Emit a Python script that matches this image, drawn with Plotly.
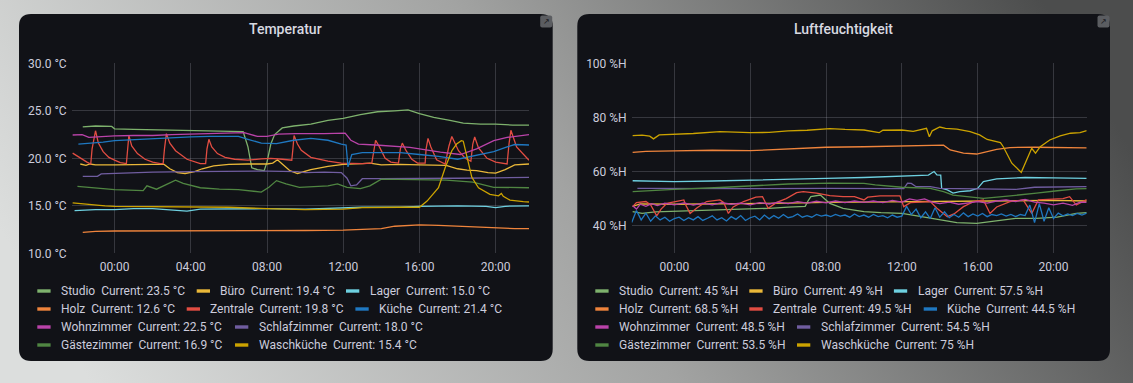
import base64
from datetime import datetime, timedelta
import plotly.graph_objects as go

W, H = 1133, 383
BASE = datetime(2023, 3, 2)

# ---------------- data ----------------
names = ["Studio", "Büro", "Lager", "Holz", "Zentrale", "Küche",
         "Wohnzimmer", "Schlafzimmer", "Gästezimmer", "Waschküche"]
colors = ["#7EB26D", "#EAB839", "#6ED0E0", "#EF843C", "#E24D42", "#1F78C1",
          "#BA43A9", "#705DA0", "#508642", "#CCA300"]
temp_current = [23.5, 19.4, 15.0, 12.6, 19.8, 21.4, 22.5, 18.0, 16.9, 15.4]
hum_current = [45, 49, 57.5, 68.5, 49.5, 44.5, 48.5, 54.5, 53.5, 75]
temp_ticks = [10, 15, 20, 25, 30]
hum_ticks = [40, 60, 80, 100]

# temperature series: (hour relative to 00:00, value °C)
temp_studio = [(-1.67, 23.3), (-1.0, 23.4), (-0.15, 23.35), (0.0, 23.1), (1, 23.05), (2, 23.0), (3, 22.95),
               (4, 22.9), (5, 22.9), (6, 22.85), (6.75, 22.8), (7.0, 21.2), (7.2, 19.0), (7.5, 18.8),
               (7.85, 18.7), (8.0, 19.6), (8.2, 21.5), (8.4, 22.5), (8.8, 23.2), (9.4, 23.4), (10.3, 23.6),
               (11.2, 24.0), (12, 24.2), (12.9, 24.6), (13.8, 24.9), (14.7, 25.0), (15.4, 25.1), (16, 24.7),
               (16.75, 24.3), (17.6, 24.0), (18.3, 23.7), (19.2, 23.6), (20, 23.6), (20.9, 23.5), (21.75, 23.5)]
temp_buero = [(-1.8, 19.4), (-1.5, 19.25), (-1.3, 19.4), (-1, 19.3), (0, 19.3), (1, 19.35), (2, 19.35),
              (2.6, 19.35), (2.9, 18.9), (3.3, 18.5), (3.7, 18.4), (4.2, 18.6), (4.6, 18.9), (5.2, 19.2),
              (6, 19.35), (7, 19.4), (8, 19.4), (8.3, 19.5), (8.55, 19.85), (8.8, 19.4), (9.2, 18.7),
              (9.6, 18.4), (10.3, 18.8), (11.2, 19.15), (12, 19.35), (13, 19.45), (13.4, 19.5), (14, 19.3),
              (15, 19.35), (16, 19.3), (17, 19.3), (17.4, 19.25), (18, 18.9), (18.5, 18.75), (19, 18.7),
              (19.6, 18.5), (20, 18.45), (20.5, 18.8), (21, 19.3), (21.75, 19.4)]
temp_lager = [(-2.1, 14.5), (-1, 14.6), (0, 14.6), (1, 14.7), (2, 14.7), (3, 14.6), (3.8, 14.45), (4.5, 14.65),
              (6, 14.7), (8, 14.7), (10, 14.65), (12, 14.75), (13, 14.85), (15, 14.85), (16, 14.95),
              (18, 15.0), (19.5, 14.95), (20, 14.8), (20.5, 14.95), (21.75, 15.0)]
temp_holz = [(-1.67, 12.2), (-1, 12.3), (0, 12.35), (2, 12.35), (4, 12.35), (6, 12.4), (8, 12.35), (10, 12.4),
             (12, 12.45), (13, 12.5), (14, 12.6), (14.7, 12.85), (16, 13.0), (17, 12.95), (18, 12.85),
             (19, 12.8), (20, 12.65), (21, 12.6), (21.75, 12.6)]
temp_zentrale = [(-2.2, 20.55), (-1.8, 20.0), (-1.45, 19.6), (-1.25, 19.4), (-1.18, 21.0), (-1.0, 22.9),
                 (-0.85, 21.6), (-0.6, 20.7), (-0.3, 20.1), (0, 19.8), (0.3, 19.55), (0.62, 19.45), (0.7, 21.5),
                 (0.75, 22.4), (0.9, 21.3), (1.2, 20.5), (1.6, 19.9), (2.0, 19.6), (2.4, 19.45), (2.55, 19.45),
                 (2.62, 21.0), (2.72, 22.6), (2.9, 21.6), (3.2, 20.8), (3.8, 19.9), (4.2, 19.6), (4.5, 19.45),
                 (4.78, 19.45), (4.85, 21.0), (4.95, 22.0), (5.1, 21.2), (5.4, 20.5), (5.8, 20.1), (6.3, 19.9),
                 (7.0, 19.8), (7.7, 19.95), (8.2, 20.0), (8.8, 19.9), (9.3, 19.8), (9.36, 21.0), (9.42, 22.4),
                 (9.6, 21.5), (9.8, 20.85), (10.3, 20.1), (11.2, 19.7), (11.9, 19.5), (12.5, 19.45),
                 (13.0, 19.45), (13.5, 19.5), (13.6, 21.0), (13.7, 21.9), (13.9, 21.2), (14.2, 20.0),
                 (14.5, 19.6), (14.9, 19.5), (15.0, 21.0), (15.1, 21.6), (15.3, 20.8), (15.6, 19.9),
                 (15.9, 19.5), (16.3, 19.5), (16.35, 21.0), (16.45, 22.1), (16.6, 21.2), (16.9, 19.85),
                 (17.35, 19.4), (17.55, 21.3), (17.7, 22.3), (17.85, 21.6), (18.05, 20.8), (18.4, 20.0),
                 (18.7, 19.7), (18.8, 21.5), (18.9, 22.25), (19.1, 21.1), (19.55, 20.0), (20.0, 19.6),
                 (20.6, 19.4), (20.7, 21.5), (20.8, 22.95), (21.1, 21.2), (21.5, 20.35), (21.75, 19.8)]
temp_kueche = [(-1.9, 21.5), (-1.2, 21.6), (-0.6, 21.7), (0, 21.85), (1, 21.95), (2, 22.1), (3, 22.15),
               (4, 22.25), (5, 22.3), (6, 22.3), (6.5, 22.3), (7, 22.0), (7.7, 21.6), (8.5, 21.55),
               (9.4, 21.9), (10.3, 22.1), (11.2, 21.9), (11.9, 21.5), (12.15, 21.4), (12.25, 19.1),
               (12.45, 20.4), (13, 20.6), (14, 20.6), (15, 20.6), (16, 20.4), (17, 20.2), (18, 19.9),
               (19, 20.3), (19.9, 20.7), (20.6, 21.2), (21, 21.45), (21.75, 21.4)]
temp_wohnzimmer = [(-2.2, 22.45), (-1.7, 22.5), (-1.35, 22.2), (-1, 22.25), (0, 22.35), (1, 22.4), (2, 22.4),
                   (3, 22.5), (4, 22.55), (5, 22.6), (6, 22.65), (6.8, 22.7), (7.5, 22.3), (8, 22.3),
                   (8.6, 22.55), (9.5, 22.6), (11, 22.6), (12.1, 22.65), (12.4, 21.9), (12.8, 21.5),
                   (13.7, 21.4), (15.5, 21.15), (17.1, 20.65), (18.15, 20.4), (19, 21.0), (19.9, 21.85),
                   (20.6, 22.2), (21.75, 22.5)]
temp_schlafzimmer = [(-1.67, 18.1), (-0.9, 18.1), (-0.7, 18.35), (0, 18.4), (1, 18.5), (2, 18.55), (4, 18.6),
                     (6, 18.65), (8, 18.65), (9.6, 18.6), (10, 18.5), (11, 18.55), (11.9, 18.5), (12.2, 17.9),
                     (12.4, 17.1), (12.7, 17.2), (13, 17.85), (14, 17.85), (16, 17.85), (17, 17.85),
                     (18, 17.9), (20, 17.95), (21.75, 18.0)]
temp_gaestezimmer = [(-1.95, 17.05), (-1.2, 16.9), (0, 16.7), (1.5, 16.6), (1.7, 17.1), (2.2, 16.75),
                     (2.7, 17.2), (3.2, 17.7), (3.6, 17.35), (4.5, 16.9), (5.5, 16.75), (6.5, 16.7),
                     (7.7, 16.45), (8.1, 16.95), (8.5, 17.65), (9.0, 17.3), (9.7, 16.95), (11.2, 17.1),
                     (11.7, 17.3), (12.2, 16.95), (12.9, 16.8), (13.4, 17.1), (14.0, 17.8), (16, 17.75),
                     (17.4, 17.7), (18.8, 17.5), (19.9, 16.95), (21.75, 16.9)]
temp_waschkueche = [(-2.2, 15.3), (-1.5, 15.15), (-0.5, 15.0), (0, 14.95), (2, 14.9), (4, 14.9), (6, 14.85),
                    (8, 14.7), (10, 14.6), (12, 14.65), (13, 14.8), (15, 14.85), (16, 14.85), (16.4, 15.5),
                    (16.7, 16.2), (17.0, 16.9), (17.35, 19.0), (17.7, 20.8), (17.95, 21.5), (18.2, 21.85),
                    (18.3, 21.8), (18.5, 20.0), (18.75, 18.0), (19.1, 16.9), (19.7, 16.2), (20.15, 16.05),
                    (20.3, 16.3), (20.4, 16.0), (20.75, 15.6), (21.45, 15.45), (21.75, 15.4)]

# humidity series: (hour relative to 00:00, value %H)
hum_studio = [(-2.2, 45.1), (-1.7, 44.4), (-1.0, 45.0), (0, 45.2), (1, 45.4), (2.4, 45.7), (4, 46.0),
              (5, 46.3), (6, 46.7), (6.9, 47.0), (7.05, 49.0), (7.2, 50.6), (7.7, 51.2), (8.0, 49.5),
              (8.2, 48.1), (8.9, 46.3), (10, 45.1), (10.9, 44.7), (12, 44.4), (12.8, 43.5), (13.5, 42.6),
              (14.0, 42.0), (14.9, 41.0), (15.95, 40.7), (16.65, 41.4), (17.35, 42.2), (18.0, 42.6),
              (19.1, 42.6), (20.2, 43.0), (21.2, 44.4), (21.75, 44.7)]
hum_buero = [(-2.2, 47.0), (-1.8, 47.9), (0, 47.8), (2, 47.9), (4, 48.0), (6, 48.2), (8, 48.5), (10, 48.6),
             (12, 48.9), (14, 49.0), (16, 49.1), (18, 49.2), (20, 49.2), (21.75, 49.0)]
hum_lager = [(-2.2, 56.5), (-1, 56.3), (0, 56.2), (2, 56.4), (4, 56.8), (6, 57.2), (8, 57.4), (10, 57.7),
             (12, 58.3), (13.4, 58.6), (13.7, 59.9), (13.85, 58.7), (14.05, 58.6), (14.1, 53.7),
             (14.4, 53.1), (14.7, 51.9), (15.05, 52.5), (15.6, 52.8), (16.0, 53.7), (16.3, 56.2),
             (17.0, 57.2), (18.5, 57.7), (20, 57.6), (21.75, 57.4)]
hum_holz = [(-2.2, 67.0), (-1.5, 67.4), (0, 67.6), (2, 67.8), (4, 67.65), (6, 68.2), (8, 68.9), (10, 69.1),
            (12, 69.3), (13, 69.6), (14.2, 69.7), (14.55, 67.9), (15.25, 66.7), (15.95, 66.4), (16.5, 67.2),
            (17.0, 68.1), (17.7, 68.8), (19, 68.9), (21.75, 68.7)]
hum_zentrale = [(-2.2, 46.9), (-2.0, 48.4), (-1.5, 48.8), (-1.25, 47.5), (-0.93, 43.5), (-0.7, 46.0),
                (-0.4, 48.1), (0.3, 49.0), (0.5, 49.4), (0.6, 47.5), (0.83, 44.4), (1.2, 46.5), (1.7, 48.8),
                (2.4, 49.4), (2.6, 48.5), (2.85, 44.4), (3.1, 46.8), (3.65, 48.8), (4.3, 50.4), (4.65, 50.6),
                (4.95, 46.3), (5.4, 48.5), (5.9, 49.9), (6.45, 52.1), (6.8, 52.5), (7.5, 51.9), (8.2, 51.0),
                (8.9, 50.6), (9.5, 50.6), (10.0, 49.4), (10.2, 50.4), (10.85, 50.9), (11.9, 50.9),
                (12.1, 46.9), (12.45, 48.4), (13.5, 48.8), (13.85, 46.3), (14.4, 43.2), (14.75, 44.2),
                (15.25, 46.9), (15.8, 48.8), (16.3, 49.4), (16.65, 44.4), (17.0, 46.8), (17.7, 48.8),
                (18.4, 49.4), (18.85, 44.4), (19.2, 49.4), (20.5, 49.9), (20.85, 50.6), (21.2, 47.5),
                (21.75, 49.5)]
hum_kueche_start = -2.25
hum_kueche_step = 0.25
hum_kueche = [41.0, 45.5, 42.0, 44.5, 41.5, 43.5, 42.0, 43.0, 41.5, 42.5, 43.0, 41.8, 42.8, 42.0, 43.2, 41.8,
              42.6, 43.5, 42.0, 42.8, 41.6, 43.2, 42.2, 43.6, 41.8, 42.8, 43.4, 42.0, 43.8, 42.4, 43.6, 42.6,
              44.0, 42.8, 43.2, 44.2, 43.0, 43.6, 43.0, 44.0, 43.4, 43.8, 43.2, 44.0, 43.4, 43.8, 43.0, 44.2,
              43.2, 43.8, 43.0, 44.0, 43.2, 43.6, 42.8, 43.8, 43.0, 43.4, 47.0, 44.0, 46.0, 42.8, 45.0, 42.5,
              46.5, 43.0, 45.0, 42.8, 44.0, 43.0, 44.6, 43.2, 44.2, 43.4, 44.4, 43.2, 44.0, 43.6, 44.2, 43.4,
              44.0, 43.2, 44.0, 43.6, 47.5, 41.0, 48.0, 41.5, 46.5, 42.5, 44.5, 43.5, 44.2, 43.6, 44.4, 43.8,
              44.5]
hum_wohnzimmer = [(-2.2, 47.2), (-2.0, 46.0), (-1.8, 47.8), (-1.5, 47.0), (-1.2, 48.0), (-0.9, 47.3),
                  (-0.5, 48.2), (0, 47.6), (0.5, 48.3), (1, 47.5), (1.5, 48.2), (2, 47.6), (2.5, 48.4),
                  (3, 47.8), (3.5, 48.2), (4, 47.6), (4.5, 48.4), (5, 47.9), (5.5, 48.6), (6, 48.0),
                  (6.5, 48.8), (7, 48.2), (7.5, 48.9), (8, 48.3), (8.5, 49.0), (9, 48.4), (9.5, 49.0),
                  (10, 48.5), (10.5, 49.0), (11, 48.4), (11.5, 49.2), (12, 48.6), (12.4, 49.8), (12.8, 49.2),
                  (13.2, 49.8), (13.6, 48.6), (14, 48.0), (14.5, 48.6), (15, 47.8), (15.5, 48.4), (16, 48.8),
                  (16.5, 48.2), (17, 49.0), (17.5, 49.4), (18, 48.8), (18.5, 49.6), (19, 48.6), (19.5, 48.2),
                  (20, 47.6), (20.5, 48.2), (21, 47.4), (21.4, 48.6), (21.75, 48.5)]
hum_schlafzimmer = [(-1.95, 53.7), (0, 53.6), (4, 53.6), (8, 53.7), (11, 53.5), (12.1, 53.6), (12.3, 55.6),
                    (12.5, 55.5), (12.75, 54.3), (13.5, 54.3), (14.0, 53.7), (16, 53.5), (18, 53.3),
                    (19.0, 54.1), (21.75, 54.3)]
hum_gaestezimmer = [(-2.2, 52.5), (-1, 52.8), (0, 53.3), (2.4, 54.0), (4, 54.6), (6, 55.3), (8.2, 55.6),
                    (10, 55.5), (10.6, 55.0), (12, 54.1), (13.5, 53.7), (14.2, 52.5), (14.7, 51.2), (15.6, 50.4),
                    (16.3, 50.0), (17.3, 50.6), (18.0, 51.2), (19.1, 51.9), (20.2, 52.8), (21.2, 53.5),
                    (21.75, 53.6)]
hum_waschkueche = [(-2.2, 73.2), (-1.7, 73.4), (-1.3, 73.0), (-1.1, 72.0), (-0.8, 73.5), (0, 73.7), (1, 74.0),
                   (2.4, 74.7), (3, 74.5), (4, 74.3), (5, 74.4), (6, 75.0), (7, 75.2), (8.2, 75.8), (9, 75.5),
                   (10, 75.3), (10.8, 74.3), (11, 75.2), (12, 75.3), (12.6, 74.8), (13.3, 75.9), (13.45, 72.8),
                   (13.6, 75.0), (13.85, 75.9), (14.0, 76.4), (14.3, 75.9), (14.9, 75.6), (15.6, 74.7),
                   (16.1, 73.5), (16.5, 71.8), (17.2, 70.6), (17.35, 69.1), (17.8, 63.0), (18.3, 59.6),
                   (18.6, 64.2), (18.85, 68.5), (19.05, 66.7), (19.3, 69.1), (19.8, 71.6), (20.35, 73.1),
                   (20.9, 74.1), (21.4, 74.3), (21.75, 75.1)]

hum_kueche_pairs = [(hum_kueche_start + i * hum_kueche_step, v) for i, v in enumerate(hum_kueche)]

temp_series = [temp_studio, temp_buero, temp_lager, temp_holz, temp_zentrale, temp_kueche,
               temp_wohnzimmer, temp_schlafzimmer, temp_gaestezimmer, temp_waschkueche]
hum_series = [hum_studio, hum_buero, hum_lager, hum_holz, hum_zentrale, hum_kueche_pairs,
              hum_wohnzimmer, hum_schlafzimmer, hum_gaestezimmer, hum_waschkueche]

# ---------------- styling / layout helpers ----------------
FONT = "Roboto"
PANEL = "#111217"
GRID = "rgba(204,204,220,0.2)"
TEXT = "#ccccdc"


def t(h):
    return BASE + timedelta(hours=h)


def px(x):
    return x / W


def py(y):
    return 1 - y / H


def rounded_rect(x0, y0, x1, y1, r):
    return (f"M{px(x0 + r)},{py(y0)} L{px(x1 - r)},{py(y0)} Q{px(x1)},{py(y0)} {px(x1)},{py(y0 + r)} "
            f"L{px(x1)},{py(y1 - r)} Q{px(x1)},{py(y1)} {px(x1 - r)},{py(y1)} "
            f"L{px(x0 + r)},{py(y1)} Q{px(x0)},{py(y1)} {px(x0)},{py(y1 - r)} "
            f"L{px(x0)},{py(y0 + r)} Q{px(x0)},{py(y0)} {px(x0 + r)},{py(y0)} Z")


fig = go.Figure()

for i, s in enumerate(temp_series):
    fig.add_trace(go.Scatter(x=[t(h) for h, _ in s], y=[v for _, v in s], mode="lines",
                             name=names[i], line=dict(color=colors[i], width=1.3),
                             xaxis="x", yaxis="y", showlegend=False))
for i, s in enumerate(hum_series):
    fig.add_trace(go.Scatter(x=[t(h) for h, _ in s], y=[v for _, v in s], mode="lines",
                             name=names[i], line=dict(color=colors[i], width=1.3),
                             xaxis="x2", yaxis="y2", showlegend=False))

plot_top, plot_bot = 63.3, 253.3
xdom1 = [px(71.7), px(529.0)]
xdom2 = [px(631.7), px(1086.7)]
ydom = [py(plot_bot), py(plot_top)]

tickfont = dict(family=FONT, size=12, color=TEXT)
xcommon = dict(type="date", range=[t(-2.25), t(21.75)], tickformat="%H:%M", dtick=4 * 3600 * 1000,
               tick0=t(0), showgrid=True, gridcolor=GRID, gridwidth=1, zeroline=False, showline=False,
               ticks="", tickfont=tickfont, fixedrange=True, ticklabelstandoff=5, automargin=False)
ycommon = dict(showgrid=True, gridcolor=GRID, gridwidth=1, zeroline=False, showline=False, ticks="",
               tickfont=tickfont, fixedrange=True, ticklabelstandoff=4, automargin=False)

fig.update_layout(
    width=W, height=H, autosize=False,
    margin=dict(l=0, r=0, t=0, b=0, pad=0, autoexpand=False),
    paper_bgcolor="#9a9b9b", plot_bgcolor="rgba(0,0,0,0)",
    xaxis=dict(domain=xdom1, anchor="y", **xcommon),
    yaxis=dict(domain=ydom, anchor="x", range=[10, 30], tickvals=temp_ticks,
               ticktext=[f"{v:.1f} °C" for v in temp_ticks], **ycommon),
    xaxis2=dict(domain=xdom2, anchor="y2", **xcommon),
    yaxis2=dict(domain=ydom, anchor="x2", range=[29.63, 100], tickvals=hum_ticks,
                ticktext=[f"{v} %H" for v in hum_ticks], **ycommon),
    showlegend=False,
)

# background gradient
svg = ("<svg xmlns='http://www.w3.org/2000/svg' width='1133' height='383' preserveAspectRatio='none'>"
       "<defs><linearGradient id='g' x1='0' y1='0.6' x2='1' y2='0.4'>"
       "<stop offset='0' stop-color='#dcdedd'/><stop offset='0.5' stop-color='#a2a3a2'/>"
       "<stop offset='1' stop-color='#4c4d4d'/></linearGradient></defs>"
       "<rect width='1133' height='383' fill='url(#g)'/></svg>")
src = "data:image/svg+xml;base64," + base64.b64encode(svg.encode()).decode()
fig.add_layout_image(dict(source=src, xref="paper", yref="paper", x=0, y=1, sizex=1, sizey=1,
                          xanchor="left", yanchor="top", sizing="stretch", layer="below"))

shapes = []
annotations = []
panels = [(19, 14, 552.7, 361, "Temperatur"), (577.3, 14, 1110, 361, "Luftfeuchtigkeit")]
for x0, y0, x1, y1, title in panels:
    shapes.append(dict(type="path", xref="paper", yref="paper", path=rounded_rect(x0, y0, x1, y1, 12),
                       fillcolor=PANEL, line=dict(width=0), layer="below"))
    # corner resize icon
    shapes.append(dict(type="path", xref="paper", yref="paper",
                       path=rounded_rect(x1 - 12.5, y0 + 1.5, x1 - 0.5, y0 + 13.5, 2),
                       fillcolor="#5b5d61", line=dict(width=0), layer="above"))
    annotations.append(dict(text="↗", xref="paper", yref="paper", x=px(x1 - 6.5), y=py(y0 + 7.5),
                            xanchor="center", yanchor="middle", showarrow=False,
                            font=dict(family="DejaVu Sans", size=8, color="#1a1b1e")))
    annotations.append(dict(text=title, xref="paper", yref="paper", x=px((x0 + x1) / 2), y=py(29.3),
                            xanchor="center", yanchor="middle", showarrow=False,
                            font=dict(family=FONT, size=14, color="#d8d9e0", weight=500)))

# legends
rows_idx = [[0, 1, 2], [3, 4, 5], [6, 7], [8, 9]]
row_y = [291, 309, 327, 345]
left_swatch_x = [[37.3, 196.7, 346.0], [37.3, 186.7, 355.4], [37.3, 235.0], [37.3, 235.0]]
right_swatch_x = [[595.3, 749.3, 893.9], [595.3, 749.3, 923.7], [595.3, 797.0], [595.3, 797.0]]

for swx, currents, unit, fmt in [(left_swatch_x, temp_current, "°C", "{:.1f}"),
                                 (right_swatch_x, hum_current, "%H", "{:g}")]:
    for r, idxs in enumerate(rows_idx):
        yc = row_y[r]
        for k, i in enumerate(idxs):
            sx = swx[r][k]
            shapes.append(dict(type="rect", xref="paper", yref="paper", x0=px(sx), x1=px(sx + 13.3),
                               y0=py(yc + 1.7), y1=py(yc - 1.7), fillcolor=colors[i], line=dict(width=0),
                               layer="above"))
            label = f"{names[i]}\u00a0\u00a0Current: {fmt.format(currents[i])} {unit}"
            annotations.append(dict(text=label, xref="paper", yref="paper", x=px(sx + 21.7), y=py(yc),
                                    xanchor="left", yanchor="middle", showarrow=False,
                                    font=dict(family=FONT, size=12, color=TEXT)))

fig.update_layout(shapes=shapes, annotations=annotations)
fig.write_html("out.html", config={"displayModeBar": False},
               post_script=("document.documentElement.style.overflow='hidden';"
                            "document.body.style.margin='0';document.body.style.overflow='hidden';"))
